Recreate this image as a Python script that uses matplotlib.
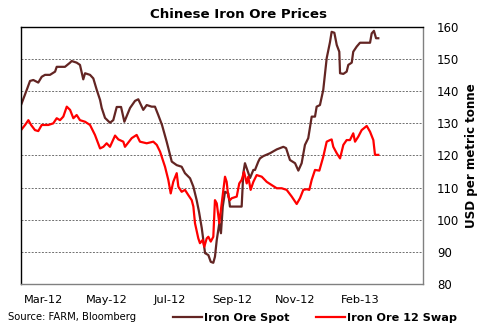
import matplotlib
matplotlib.use('Agg')
import matplotlib.pyplot as plt

# --- Data (x = trading-day index) ---
spot_x = [0, 3.8, 6, 8.2, 11.5, 13.8, 16, 19.3, 22.7, 23.8, 29.3, 32.7, 33.8, 37.1, 39.3,
          41.5, 42.7, 46, 48.2, 50.5, 52.7, 53.8, 56, 59.3, 61.5, 63.8, 66.7, 68.9, 72.7,
          76, 78.2, 81.5, 83.8, 87.1, 89.3, 91.5, 94, 97.1, 100.5, 103.8, 107.1, 109.3,
          112.7, 114.9, 117.1, 118.7, 120.5, 122.7, 124.9, 126.5, 128.2, 129.3, 130.5,
          132.2, 133.3, 134.5, 136, 138.2, 139.3, 147.1, 148.2, 149.3, 151.3, 152.7, 154.9,
          156, 158.2, 159.3, 161.5, 166, 170.5, 174.9, 176.7, 179.3, 182.7, 184.9, 187.1,
          189.3, 191.5, 193.8, 196, 197.1, 199.3, 201.5, 203.8, 206, 207.1, 208.9, 210.5,
          212.2, 212.7, 214.9, 217.1, 218.2, 220.5, 221.5, 223.8, 226, 232.7, 233.8, 235.3,
          236.7, 238.2]
spot_y = [135.7, 140.4, 143.2, 143.5, 142.7, 144.5, 145.1, 145.1, 146.1, 147.6, 147.6, 148.9,
          149.4, 148.9, 148.2, 143.7, 145.6, 145.1, 144.0, 140.4, 137.3, 134.8, 131.7, 130.2,
          131.0, 135.1, 135.1, 130.5, 134.8, 137.0, 137.5, 134.2, 135.7, 135.2, 135.2, 132.6,
          129.5, 124.3, 118.1, 117.0, 116.5, 114.5, 112.9, 110.3, 106.1, 102.4, 97.4, 89.6,
          89.0, 86.9, 86.6, 88.5, 93.7, 98.9, 95.8, 104.1, 108.7, 108.2, 104.1, 104.1, 114.5,
          117.6, 114.9, 113.0, 115.5, 115.5, 118.1, 119.1, 119.8, 120.7, 121.9, 122.7, 122.3,
          118.6, 117.6, 115.3, 117.6, 123.3, 125.4, 132.1, 132.1, 135.2, 135.7, 140.4, 150.3,
          155.3, 158.5, 158.2, 154.4, 152.3, 145.6, 145.4, 146.1, 148.2, 148.9, 152.3, 153.9,
          155.1, 155.1, 158.0, 158.8, 156.5, 156.5]

swap_x = [0, 2.7, 4.9, 6.7, 9.3, 11.5, 13.8, 18.2, 21.5, 23.8, 26, 28.2, 30.5, 32.7, 34.9,
          37.1, 39.3, 42.7, 46, 49.3, 52.7, 54.9, 57.1, 59.3, 62.7, 64.9, 68.2, 69.3, 73.8,
          77.1, 79.3, 83.8, 88.2, 90.5, 92.7, 96, 98.2, 99.8, 101.5, 103.8, 104.9, 107.1,
          109.3, 111.5, 113.8, 114.9, 116, 118.2, 119.3, 121.1, 122.2, 123.8, 124.9, 126.5,
          128.2, 129.3, 130.5, 132.2, 133.8, 136, 137.1, 138.2, 139.3, 140.5, 143.8, 145.5,
          147.1, 148.7, 150.5, 151.5, 153.1, 154.9, 157.1, 160.5, 163.8, 167.1, 170.5, 173.8,
          177.1, 180.5, 183.8, 186, 188.2, 190.5, 192.2, 193.8, 196, 198.9, 201.5, 203.8,
          206, 207.1, 208.2, 210.5, 212.7, 214.9, 217.1, 219.3, 221.5, 222.7, 224.9, 227.1,
          230.5, 232.7, 234.9, 236, 238.2]
swap_y = [127.9, 129.5, 131.0, 129.5, 127.9, 127.6, 129.5, 129.5, 130.0, 131.6, 131.0, 132.1,
          135.2, 134.2, 131.6, 132.6, 131.0, 130.5, 129.5, 126.4, 122.2, 122.7, 123.8, 122.7,
          126.2, 125.0, 124.3, 122.7, 125.4, 126.4, 124.3, 123.8, 124.3, 123.3, 121.2, 116.5,
          112.4, 108.2, 111.8, 114.5, 110.3, 108.7, 109.3, 107.7, 106.1, 104.1, 98.9, 94.2,
          92.7, 93.7, 91.6, 94.2, 94.7, 93.2, 94.7, 106.1, 105.1, 98.9, 105.1, 113.4, 111.8,
          107.2, 106.1, 106.7, 107.2, 111.3, 112.4, 114.9, 111.3, 113.4, 109.3, 111.8, 113.9,
          113.4, 111.8, 110.8, 109.8, 109.8, 109.3, 107.2, 104.9, 106.7, 109.3, 109.5, 109.3,
          112.4, 115.5, 115.3, 119.6, 124.3, 124.8, 125.0, 122.7, 120.7, 119.1, 123.3, 124.8,
          124.8, 126.9, 124.3, 125.9, 127.9, 129.2, 127.4, 124.8, 120.2, 120.2]

tick_pos = [15, 57, 99, 141, 183, 226]
tick_labels = ["Mar-12", "May-12", "Jul-12", "Sep-12", "Nov-12", "Feb-13"]
y_ticks = [80, 90, 100, 110, 120, 130, 140, 150, 160]

spot_color = "#632523"
swap_color = "#FF0000"

fig = plt.figure(figsize=(4.81, 3.32), dpi=100)
ax = fig.add_axes([0.0437, 0.1446, 0.8357, 0.7741])

ax.plot(spot_x, spot_y, color=spot_color, lw=1.6, label="Iron Ore Spot")
ax.plot(swap_x, swap_y, color=swap_color, lw=1.6, label="Iron Ore 12 Swap")

ax.set_xlim(0, 268)
ax.set_ylim(80, 160)
ax.set_yticks(y_ticks)
ax.yaxis.tick_right()
ax.tick_params(axis='y', length=0, labelsize=8.5, pad=10)
ax.set_xticks(tick_pos)
ax.set_xticklabels(tick_labels)
ax.tick_params(axis='x', length=0, labelsize=8.2, pad=8)

for v in y_ticks[1:-1]:
    ax.axhline(v, color="#707070", lw=0.7, ls=(0, (2, 1.5)), zorder=0)

ax.spines['left'].set_color('black')
ax.spines['top'].set_color('black')
ax.spines['right'].set_color('#808080')
ax.spines['bottom'].set_color('#808080')
for s in ax.spines.values():
    s.set_linewidth(1.0)

ax.yaxis.set_label_position('right')
ax.set_ylabel("USD per metric tonne", fontweight='bold', fontsize=8.6, labelpad=4)

fig.text(0.495, 0.955, "Chinese Iron Ore Prices", ha='center', va='center',
         fontsize=9.6, fontweight='bold')
fig.text(0.017, 0.045, "Source: FARM, Bloomberg", ha='left', va='center', fontsize=7.2)

fig.legend(loc='center', bbox_to_anchor=(0.655, 0.042), ncol=2, frameon=False,
           prop={'weight': 'bold', 'size': 8.1}, handlelength=2.6, handletextpad=0.2,
           columnspacing=2.3)

fig.savefig("out.png", dpi=100)
